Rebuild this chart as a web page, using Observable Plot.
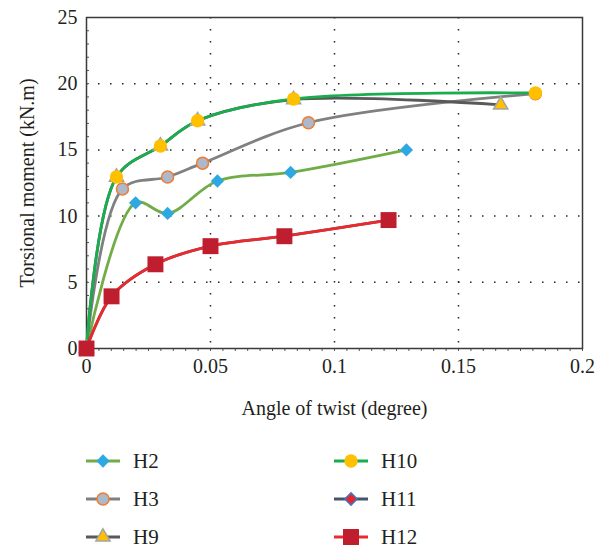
<!DOCTYPE html>
<html><head><meta charset="utf-8">
<script src="https://cdn.jsdelivr.net/npm/d3@7"></script>
<script src="https://cdn.jsdelivr.net/npm/@observablehq/plot@0.6"></script>
<style>
body{margin:0;background:#fff;font-family:"Liberation Serif","DejaVu Serif",serif;color:#231f20}
#legend{display:grid;grid-template-columns:248px 200px;padding-left:85px;margin-top:12px}
.item{display:flex;align-items:center;height:38px;font-size:21px}
.item svg{margin-right:12px;flex:none}
</style></head><body><div id="chart"></div><div id="legend"></div>
<script>
// ---- data ----
const seriesNames = ["H2", "H3", "H9", "H10", "H11", "H12"];
const angleH2  = [0, 0.0198, 0.0327, 0.0528, 0.0823, 0.1290];
const momentH2 = [0, 11.0, 10.2, 12.65, 13.3, 15.0];
const angleH3  = [0, 0.0145, 0.0327, 0.0468, 0.0895, 0.1810];
const momentH3 = [0, 12.05, 12.95, 14.0, 17.05, 19.25];
const angleH9  = [0, 0.0121, 0.0298, 0.0448, 0.0835, 0.1670];
const momentH9 = [0, 12.95, 15.3, 17.2, 18.8, 18.4];
const angleH10  = [0, 0.0121, 0.0298, 0.0448, 0.0835, 0.1810];
const momentH10 = [0, 12.95, 15.3, 17.2, 18.85, 19.3];
const angleH11  = [0, 0.0101, 0.0278, 0.0500, 0.0798, 0.1218];
const momentH11 = [0, 3.94, 6.36, 7.73, 8.48, 9.7];
const angleH12  = [0, 0.0101, 0.0278, 0.0500, 0.0798, 0.1218];
const momentH12 = [0, 3.94, 6.36, 7.73, 8.48, 9.7];
const xTicks = [0, 0.05, 0.1, 0.15, 0.2];
const yTicks = [0, 5, 10, 15, 20, 25];

// ---- styles ----
const FONT = '"Liberation Serif", "DejaVu Serif", serif';
const styles = {
  H2:  {line: "#70ad47", fill: "#2ea8e0", stroke: "none",    symbol: d3.symbolDiamond2, r: 6.0},
  H3:  {line: "#808080", fill: "#adb9ca", stroke: "#ed7d31", symbol: d3.symbolCircle,   r: 6.0},
  H9:  {line: "#595959", fill: "#ffc000", stroke: "#a5a5a5", symbol: d3.symbolTriangle, r: 5.3},
  H10: {line: "#1aad4e", fill: "#ffc000", stroke: "none",    symbol: d3.symbolCircle,   r: 6.7},
  H11: {line: "#44546a", fill: "#e8262a", stroke: "#4472c4", symbol: d3.symbolDiamond2, r: 5.5},
  H12: {line: "#ec2a2e", fill: "#be1e2d", stroke: "none",    symbol: d3.symbolSquare,   r: 9.0}
};
const raw = {
  H2: [angleH2, momentH2], H3: [angleH3, momentH3], H9: [angleH9, momentH9],
  H10: [angleH10, momentH10], H11: [angleH11, momentH11], H12: [angleH12, momentH12]
};
const rows = s => raw[s][0].map((a, i) => ({series: s, angle: a, moment: raw[s][1][i]}));

const minorX = d3.range(0, 40.5, 1).map(i => i * 0.005);
const minorY = d3.range(0, 25.5, 1);

const marks = [
  Plot.gridX([0.05, 0.1, 0.15], {stroke: "#222", strokeOpacity: 1, strokeWidth: 1.5, strokeDasharray: "1.5 10.5"}),
  Plot.gridY([5, 10, 15, 20], {stroke: "#222", strokeOpacity: 1, strokeWidth: 1.5, strokeDasharray: "1.5 10.5"}),
  Plot.axisX(minorX, {tickSize: 3, tickFormat: () => "", label: null, stroke: "#555"}),
  Plot.axisY(minorY, {tickSize: -3, tickFormat: () => "", label: null, stroke: "#555"}),
  Plot.axisX(xTicks, {tickSize: 0, tickPadding: 10, tickFormat: d => String(d), fontSize: 20,
    fontFamily: FONT, fontVariant: "normal",
    label: "Angle of twist (degree)", labelAnchor: "center", labelArrow: "none", labelOffset: 66}),
  Plot.axisY(yTicks, {tickSize: 0, tickPadding: 9, tickFormat: d => String(d), fontSize: 20,
    fontFamily: FONT, fontVariant: "normal",
    label: "Torsional moment (kN.m)", labelAnchor: "center", labelArrow: "none", labelOffset: 67}),
  Plot.frame({stroke: "#3a3a3a", strokeWidth: 1.5})
];
for (const s of seriesNames) {
  const st = styles[s];
  marks.push(Plot.line(rows(s), {x: "angle", y: "moment", stroke: st.line, strokeWidth: 2.8, curve: "catmull-rom"}));
}
for (const s of seriesNames) {
  const st = styles[s];
  marks.push(Plot.dot(rows(s), {x: "angle", y: "moment", symbol: st.symbol, r: st.r, fill: st.fill,
    stroke: st.stroke, strokeWidth: 1.5}));
}

const chart = Plot.plot({
  width: 600, height: 430,
  marginLeft: 86, marginRight: 18, marginTop: 17, marginBottom: 82,
  style: {fontFamily: FONT, fontSize: "20px", color: "#231f20", background: "#fff"},
  x: {domain: [0, 0.2]},
  y: {domain: [0, 25]},
  marks
});
document.getElementById("chart").appendChild(chart);

// ---- legend ----
const order = ["H2", "H10", "H3", "H11", "H9", "H12"];
const legend = document.getElementById("legend");
for (const s of order) {
  const st = styles[s];
  const item = document.createElement("div");
  item.className = "item";
  const path = d3.symbol(st.symbol, st.r * st.r * Math.PI)();
  item.innerHTML = `<svg width="36" height="24" viewBox="0 0 36 24">
    <line x1="1" x2="35" y1="12" y2="12" stroke="${st.line}" stroke-width="2.8"/>
    <path transform="translate(18,12)" d="${path}" fill="${st.fill}" stroke="${st.stroke}" stroke-width="1.5"/>
  </svg><span>${s}</span>`;
  legend.appendChild(item);
}
</script>
</body></html>
